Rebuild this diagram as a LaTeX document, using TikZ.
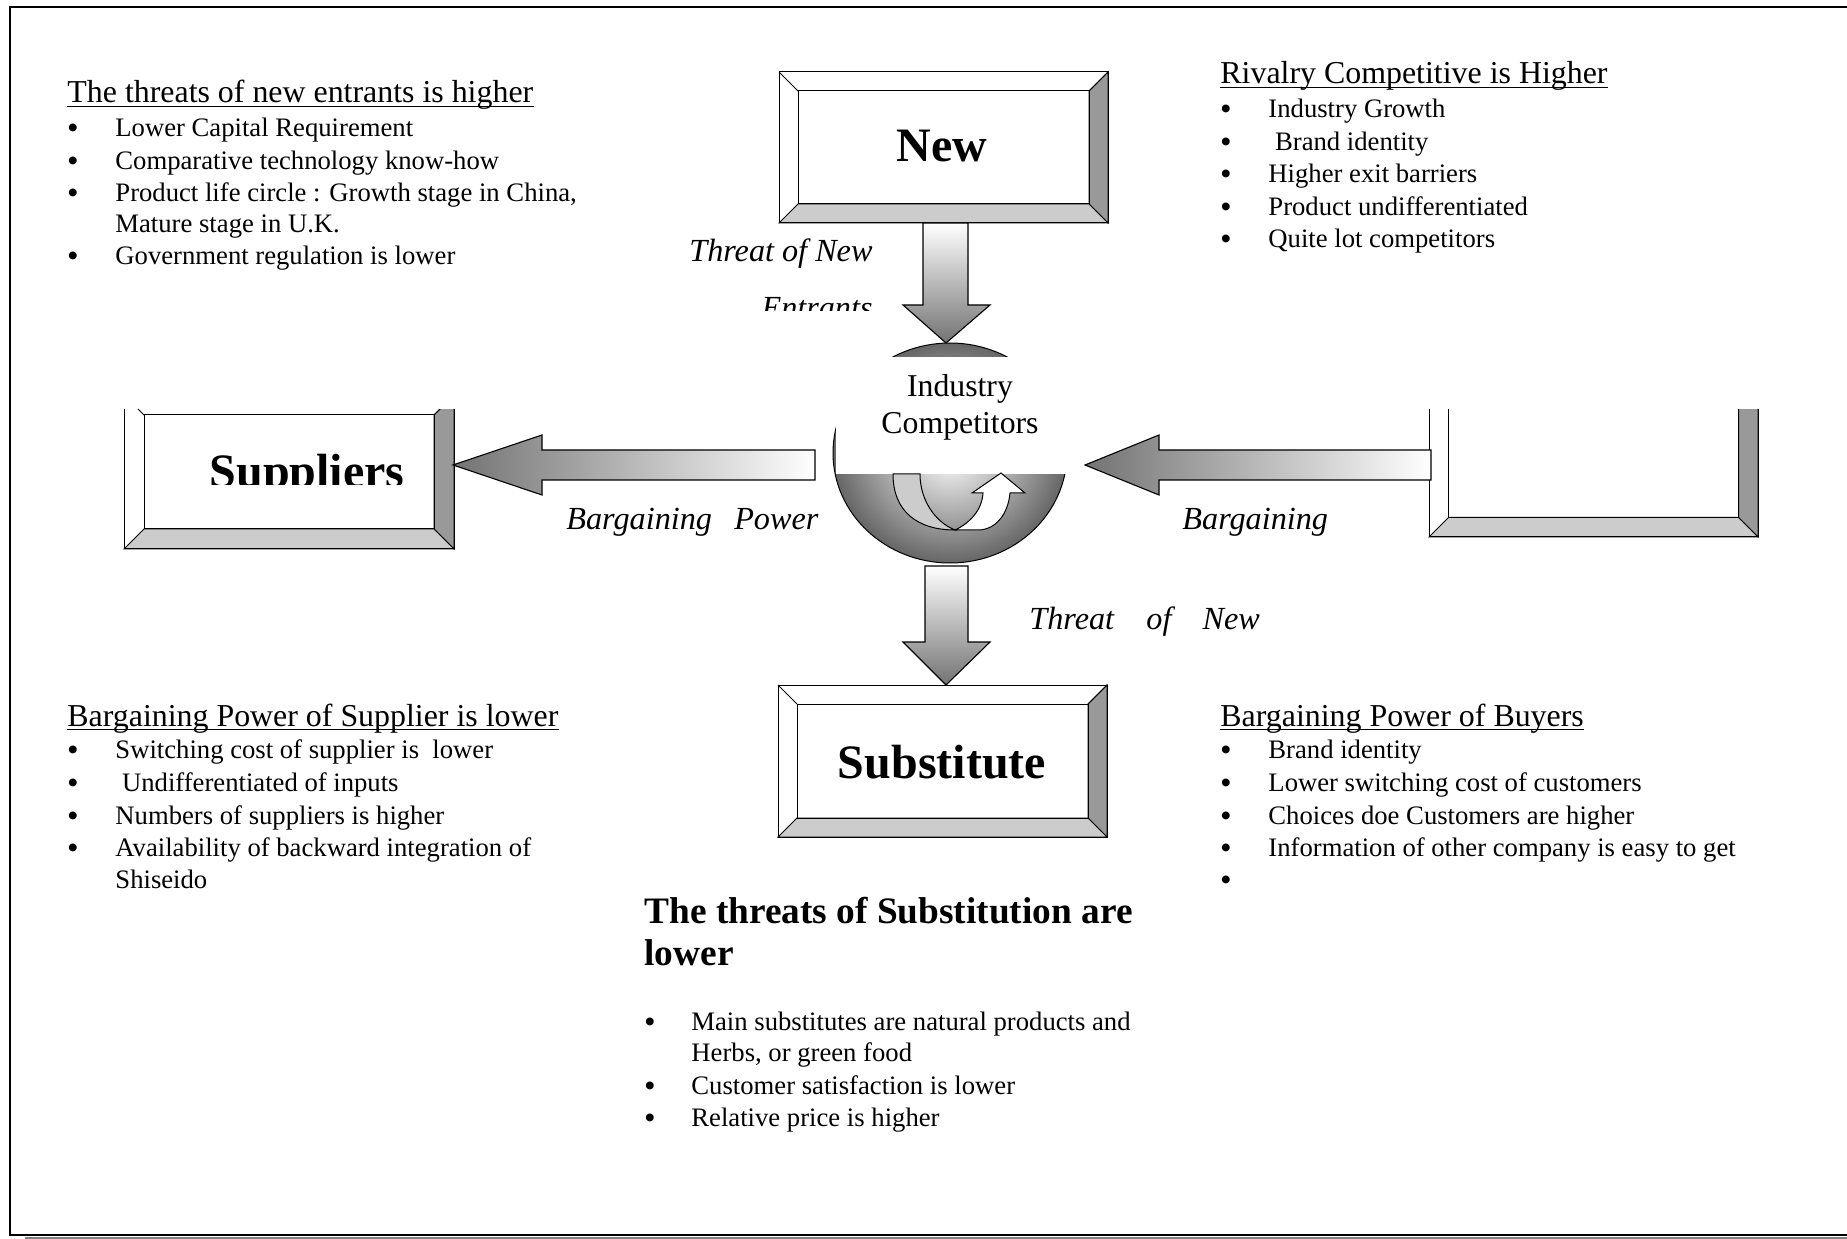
\documentclass[tikz,border=0pt]{standalone}
\usepackage{fontspec}
\setmainfont{Liberation Serif}
\definecolor{bevdark}{HTML}{999999}
\definecolor{bevlight}{HTML}{CCCCCC}
\definecolor{bandgray}{HTML}{CCCCCC}
\tikzset{
 body/.style={anchor=base west, inner sep=0pt, font=\fontsize{12}{14}\selectfont},
 bul/.style={anchor=base, inner sep=0pt, yshift=-0.5pt, font=\fontsize{13}{14}\selectfont\bfseries},
 headtxt/.style={anchor=base west, inner sep=0pt, font=\fontsize{14.35}{16}\selectfont},
 boldhead/.style={anchor=base west, inner sep=0pt, font=\fontsize{16.8}{19}\selectfont\bfseries},
 lbl/.style={inner sep=0pt, font=\fontsize{14.5}{16}\selectfont\itshape},
 boxtext/.style={anchor=base, inner sep=0pt, font=\fontsize{21.6}{24}\selectfont\bfseries},
 outl/.style={draw=black, line width=0.45pt},
 uline/.style={draw=black, line width=0.5pt},
 blockarrow/.style={draw=black, line width=0.5pt, line join=miter},
}
\newcommand\bevelbox[5]{%
 \fill[white] (#1,#2) rectangle (#3,#4);
 \filldraw[fill=bevdark, outl] (#3,#2) -- (#3,#4) -- ({#3-#5},{#4-#5}) -- ({#3-#5},{#2+#5}) -- cycle;
 \filldraw[fill=bevlight, outl] (#1,#4) -- (#3,#4) -- ({#3-#5},{#4-#5}) -- ({#1+#5},{#4-#5}) -- cycle;
 \draw[outl] (#1,#2) rectangle (#3,#4);
 \draw[outl] ({#1+#5},{#2+#5}) rectangle ({#3-#5},{#4-#5});
 \draw[outl] (#1,#2) -- ({#1+#5},{#2+#5}) (#3,#2) -- ({#3-#5},{#2+#5});
}
\begin{document}
\begin{tikzpicture}[x=0.45pt,y=-0.45pt]
\useasboundingbox (0,0) rectangle (1847,1239);
\fill[white] (0,0) rectangle (1847,1239);
% outer frame
\draw[line width=0.8pt] (1847,7) -- (10,7) -- (10,1235) -- (1847,1235);
\fill[black!50] (25,1236.5) rectangle (1847,1239);

% ---------- boxes ----------
\bevelbox{779}{72}{1108}{223}{19}
\bevelbox{778}{685}{1107}{837}{19}
\begin{scope}
 \clip (100,410) rectangle (480,560);
 \bevelbox{124}{395}{454}{549}{20}
\end{scope}
\begin{scope}
 \clip (1400,410) rectangle (1800,560);
 \bevelbox{1429}{380}{1758}{537}{19.5}
\end{scope}

\node[boxtext] (newtxt) at (942,162) {New};
\node[boxtext] (subtxt) at (942,778) {Substitute};
\begin{scope}
 \clip (100,410) rectangle (480,485);
 \node[boxtext] (suptxt) at (307,488) {Suppliers};
\end{scope}

% ---------- block arrows ----------
\path[blockarrow, top color=white, bottom color=black!55]
 (923,223) -- (968,223) -- (968,305) -- (990,305) -- (946,343) -- (903,305) -- (923,305) -- cycle;
\path[blockarrow, top color=white, bottom color=black!55]
 (925,566) -- (968,566) -- (968,642) -- (990,642) -- (946,685) -- (903,642) -- (925,642) -- cycle;
\path[blockarrow, left color=black!55, right color=white]
 (815,450) -- (542,450) -- (542,435) -- (453,465) -- (542,495) -- (542,480) -- (815,480) -- cycle;
\path[blockarrow, left color=black!55, right color=white]
 (1431,450) -- (1159,450) -- (1159,435) -- (1085,465) -- (1159,495) -- (1159,480) -- (1431,480) -- cycle;

% ---------- Industry competitors ----------
\path[outl, inner color=white, outer color=black!60] (950,453) ellipse [x radius=117, y radius=110];
\fill[white] (836,357) rectangle (1075,474);
\filldraw[fill=bandgray, outl] (893,474) .. controls (893,512) and (918,530) .. (955,530)
  .. controls (935,522) and (920,500) .. (920,474) -- cycle;
\filldraw[fill=white, outl] (955,530) .. controls (970,523) and (982,510) .. (983,493)
  -- (972,493) -- (1001,473) -- (1025,493) -- (1010,493)
  .. controls (1008,515) and (995,530) .. (978,530) -- cycle;
\node[anchor=base, inner sep=0pt, font=\fontsize{14.3}{16}\selectfont] (ind1) at (960,397) {Industry};
\node[anchor=base, inner sep=0pt, font=\fontsize{14.3}{16}\selectfont] (ind2) at (960,434) {Competitors};

% ---------- arrow labels ----------
\node[lbl, anchor=base east] (tnew1) at (873,262) {Threat of New};
\begin{scope}
 \clip (600,280) rectangle (900,311);
 \node[lbl, anchor=base east] (tnew2) at (873,319) {Entrants};
\end{scope}
\node[lbl, anchor=base west] (bpow) at (566,530) {Bargaining\hspace{10pt}Power};
\node[lbl, anchor=base west] (bbuy) at (1182,530) {Bargaining};
\node[lbl, anchor=base west] (tsub) at (1029,629) {Threat\hspace{14.5pt}of\hspace{14pt}New};

% ---------- top-left text ----------
\node[headtxt] (h1) at (67,103) {The threats of new entrants is higher};
\draw[uline] ([yshift=-1.6pt]h1.base west) -- ([yshift=-1.6pt]h1.base east);
\node[bul] at (73,136.4) {•}; \node[body] at (115,136.4) {Lower Capital Requirement};
\node[bul] at (73,169.4) {•}; \node[body] at (115,169.4) {Comparative technology know-how};
\node[bul] at (73,201.2) {•}; \node[body] at (115,201.2) {Product life circle : Growth stage in China,};
\node[body] at (115,233) {Mature stage in U.K.};
\node[bul] at (73,264.8) {•}; \node[body] at (115,264.8) {Government regulation is lower};

% ---------- top-right text ----------
\node[headtxt] (h2) at (1220,84) {Rivalry Competitive is Higher};
\draw[uline] ([yshift=-1.6pt]h2.base west) -- ([yshift=-1.6pt]h2.base east);
\node[bul] at (1226,117.6) {•}; \node[body] at (1268,117.6) {Industry Growth};
\node[bul] at (1226,150.5) {•}; \node[body] at (1268,150.5) {\ Brand identity};
\node[bul] at (1226,182.3) {•}; \node[body] at (1268,182.3) {Higher exit barriers};
\node[bul] at (1226,215.3) {•}; \node[body] at (1268,215.3) {Product undifferentiated};
\node[bul] at (1226,247.1) {•}; \node[body] at (1268,247.1) {Quite lot competitors};

% ---------- bottom-left text ----------
\node[headtxt] (h3) at (67,726) {Bargaining Power of Supplier is lower};
\draw[uline] ([yshift=-1.6pt]h3.base west) -- ([yshift=-1.6pt]h3.base east);
\node[bul] at (73,758) {•}; \node[body] at (115,758) {Switching cost of supplier is\ \ lower};
\node[bul] at (73,791) {•}; \node[body] at (115,791) {\ Undifferentiated of inputs};
\node[bul] at (73,824) {•}; \node[body] at (115,824) {Numbers of suppliers is higher};
\node[bul] at (73,856) {•}; \node[body] at (115,856) {Availability of backward integration of};
\node[body] at (115,888) {Shiseido};

% ---------- bottom-right text ----------
\node[headtxt] (h4) at (1220,726) {Bargaining Power of Buyers};
\draw[uline] ([yshift=-1.6pt]h4.base west) -- ([yshift=-1.6pt]h4.base east);
\node[bul] at (1226,758) {•}; \node[body] at (1268,758) {Brand identity};
\node[bul] at (1226,791) {•}; \node[body] at (1268,791) {Lower switching cost of customers};
\node[bul] at (1226,824) {•}; \node[body] at (1268,824) {Choices doe Customers are higher};
\node[bul] at (1226,856) {•}; \node[body] at (1268,856) {Information of other company is easy to get};
\node[bul] at (1226,888) {•};

% ---------- bottom-center text ----------
\node[boldhead] (h5a) at (644,923) {The threats of Substitution are};
\node[boldhead] (h5b) at (644,965) {lower};
\node[bul] at (650,1030) {•}; \node[body] at (691,1030) {Main substitutes are natural products and};
\node[body] at (691,1061) {Herbs, or green food};
\node[bul] at (650,1094) {•}; \node[body] at (691,1094) {Customer satisfaction is lower};
\node[bul] at (650,1126) {•}; \node[body] at (691,1126) {Relative price is higher};
\end{tikzpicture}
\end{document}
